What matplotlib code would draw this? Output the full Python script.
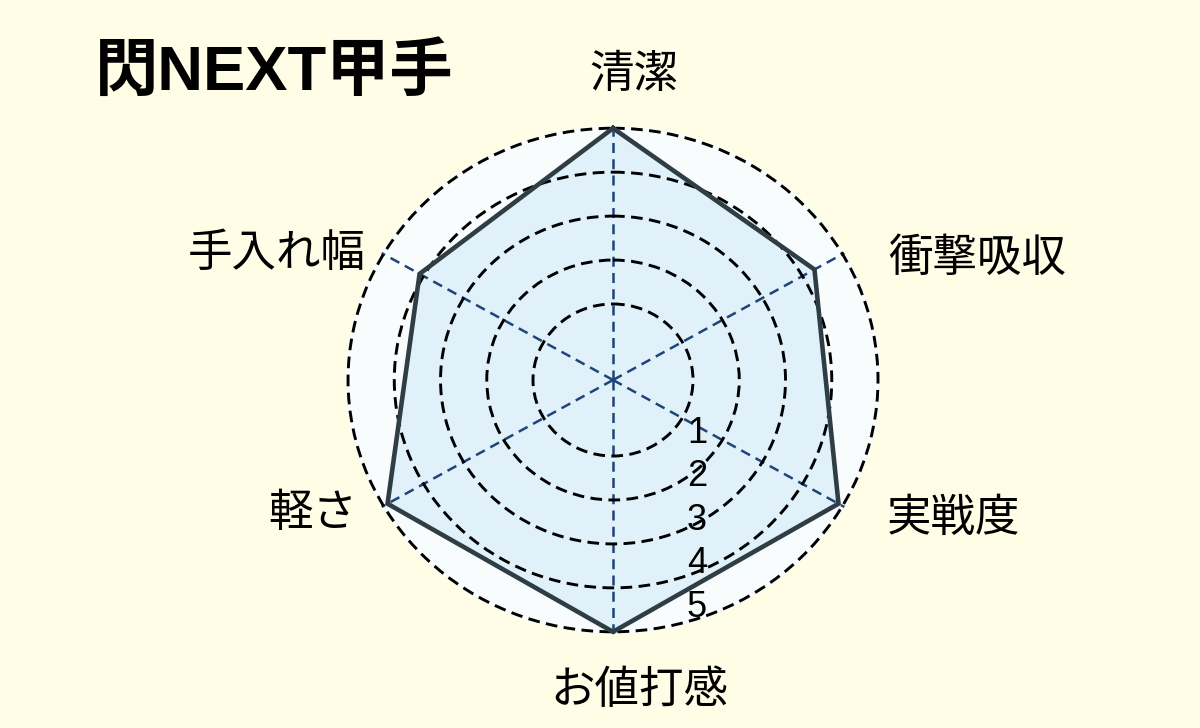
import numpy as np
import matplotlib
matplotlib.use('Agg')
import matplotlib.pyplot as plt

# データ
title = '閃NEXT甲手'
categories = ['清潔', '衝撃吸収', '実戦度', 'お値打感', '軽さ', '手入れ幅']
scores = [5.0, 4.3, 4.9, 5.0, 4.9, 4.1]
levels = [1, 2, 3, 4, 5]

# ラベルの位置 (軸の先端からのオフセット, pt)
label_offsets = [(15, 39), (97, -3), (80, -9), (19, -42), (-51, -5), (-77, 1)]

plt.rcParams['font.family'] = ['Noto Sans CJK JP', 'DejaVu Sans']


def draw_radar():
    fig = plt.figure(figsize=(12, 7.28), dpi=100, facecolor='#fffde6')
    ax = fig.add_axes([0.2881, 0.1291, 0.4455, 0.6978], projection='polar')
    ax.set_aspect('auto')
    ax.set_facecolor('#f8fcfd')
    ax.set_theta_offset(np.pi / 2)
    ax.set_theta_direction(-1)

    angles = np.linspace(0, 2 * np.pi, len(categories), endpoint=False)
    ax.set_ylim(-0.73, 5.05)
    ax.set_rgrids(levels, labels=[])
    ax.set_thetagrids(np.degrees(angles), labels=[])
    ax.xaxis.grid(color='#1f4478', linestyle=(0, (4, 2.5)), linewidth=1.8)
    ax.yaxis.grid(color='black', linestyle=(0, (4, 2.2)), linewidth=2.1)
    ax.spines['polar'].set_visible(False)
    ax.tick_params(length=0)

    # 多角形
    theta = np.append(angles, angles[0])
    vals = scores + scores[:1]
    ax.fill(theta, vals, color='#e0f1f9', zorder=1)
    ax.plot(theta, vals, color='#2f3d45', lw=3.3, zorder=3, clip_on=False,
            solid_joinstyle='miter')

    # 項目名
    for name, a, off in zip(categories, angles, label_offsets):
        ax.annotate(name, xy=(a, 5), xytext=off, textcoords='offset points',
                    ha='center', va='center', fontsize=32, annotation_clip=False)

    # 目盛り数字
    for v in levels:
        y_px = 433 + 43.5 * (v - 1)
        ax.text(0.657, (634 - y_px) / 508, str(v), transform=ax.transAxes,
                ha='center', va='center', fontsize=26,
                family=['Liberation Sans Narrow', 'Liberation Sans'])

    fig.text(95 / 1200, 1 - 73 / 728, title, fontsize=45.5, fontweight='bold',
             ha='left', va='center', family=['Liberation Sans', 'Noto Sans CJK JP'])

    fig.savefig('out.png', dpi=100, facecolor=fig.get_facecolor())


if __name__ == "__main__":
    draw_radar()
